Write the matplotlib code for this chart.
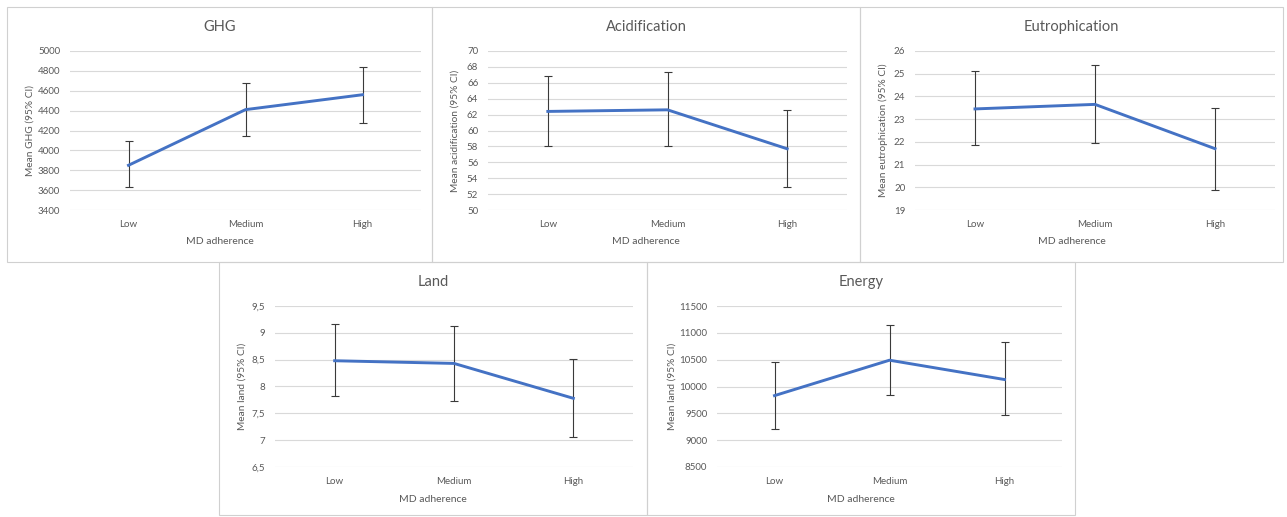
import numpy as np
import matplotlib
matplotlib.use('Agg')
import matplotlib.pyplot as plt
from matplotlib.patches import Rectangle
from matplotlib.ticker import FuncFormatter

categories = ['Low', 'Medium', 'High']

ghg_mean = [3850, 4410, 4560]
ghg_low = [3630, 4145, 4280]
ghg_high = [4090, 4680, 4835]

acid_mean = [62.4, 62.6, 57.7]
acid_low = [58.0, 58.0, 52.9]
acid_high = [66.8, 67.3, 62.6]

eutro_mean = [23.45, 23.65, 21.7]
eutro_low = [21.85, 21.95, 19.9]
eutro_high = [25.1, 25.4, 23.5]

land_mean = [8.48, 8.43, 7.78]
land_low = [7.82, 7.73, 7.05]
land_high = [9.17, 9.12, 8.52]

energy_mean = [9830, 10490, 10130]
energy_low = [9210, 9835, 9460]
energy_high = [10460, 11150, 10820]

W, H = 1287, 517
matplotlib.rcParams['font.family'] = ['Lato', 'DejaVu Sans']
fig = plt.figure(figsize=(W / 100, H / 100), dpi=100)

line_col = '#4472C4'
text_col = '#595959'
grid_col = '#D9D9D9'

# (title, ylabel, mean, lo, hi, ylim, ystep, axes box px, panel box px, ylabel x px, comma)
panels = [
    ('GHG', 'Mean GHG (95% CI)', ghg_mean, ghg_low, ghg_high, (3400, 5000), 200,
     (70, 51, 421, 210), (7, 7, 432, 262), 30, False),
    ('Acidification', 'Mean acidification (95% CI)', acid_mean, acid_low, acid_high, (50, 70), 2,
     (488, 51, 847, 210), (432, 7, 860, 262), 455, False),
    ('Eutrophication', 'Mean eutrophication (95% CI)', eutro_mean, eutro_low, eutro_high, (19, 26), 1,
     (915, 51, 1275, 210), (860, 7, 1283, 262), 883, False),
    ('Land', 'Mean land (95% CI)', land_mean, land_low, land_high, (6.5, 9.5), 0.5,
     (275, 306, 633, 467), (219, 262, 647, 515), 242, True),
    ('Energy', 'Mean land (95% CI)', energy_mean, energy_low, energy_high, (8500, 11500), 500,
     (717, 306, 1062, 467), (647, 262, 1075, 515), 672, False),
]

for title, ylab, mean, lo, hi, ylim, step, box, pbox, ylx, comma in panels:
    px0, py0, px1, py1 = pbox
    fig.patches.append(Rectangle((px0 / W, 1 - py1 / H), (px1 - px0) / W, (py1 - py0) / H,
                                 transform=fig.transFigure, fill=False,
                                 edgecolor='#D0D0D0', linewidth=0.8))
    x0, y0, x1, y1 = box
    ax = fig.add_axes([x0 / W, 1 - y1 / H, (x1 - x0) / W, (y1 - y0) / H])
    x = np.arange(len(categories))
    mean = np.array(mean)
    err = [mean - np.array(lo), np.array(hi) - mean]
    ax.errorbar(x, mean, yerr=err, fmt='none', ecolor='#3A3A3A', elinewidth=0.8,
                capsize=3, capthick=0.8, zorder=2)
    ax.plot(x, mean, color=line_col, linewidth=2.1, zorder=3)
    ax.set_xlim(-0.5, 2.5)
    ax.set_ylim(*ylim)
    ax.set_yticks(np.arange(ylim[0], ylim[1] + step / 2, step))
    if comma:
        ax.yaxis.set_major_formatter(FuncFormatter(lambda v, p: ('%g' % v).replace('.', ',')))
    ax.set_xticks(x)
    ax.set_xticklabels(categories)
    ax.grid(axis='y', color=grid_col, linewidth=0.8)
    ax.set_axisbelow(True)
    for s in ax.spines.values():
        s.set_visible(False)
    ax.tick_params(length=0, labelsize=7, colors=text_col)
    ax.tick_params(axis='y', pad=7)
    ax.tick_params(axis='x', pad=7)
    cx = (px0 + px1) / 2
    fig.text(cx / W, 1 - (py0 + 20) / H, title, ha='center', va='center',
             fontsize=10.5, color=text_col)
    fig.text(cx / W, 1 - (py0 + 235) / H if py0 < 100 else 1 - (py0 + 237) / H,
             'MD adherence', ha='center', va='center', fontsize=7.5, color=text_col)
    fig.text(ylx / W, 1 - ((y0 + y1) / 2) / H, ylab, ha='center', va='center',
             rotation=90, fontsize=7.3, color=text_col)

fig.savefig('out.png', dpi=100, facecolor='white')
